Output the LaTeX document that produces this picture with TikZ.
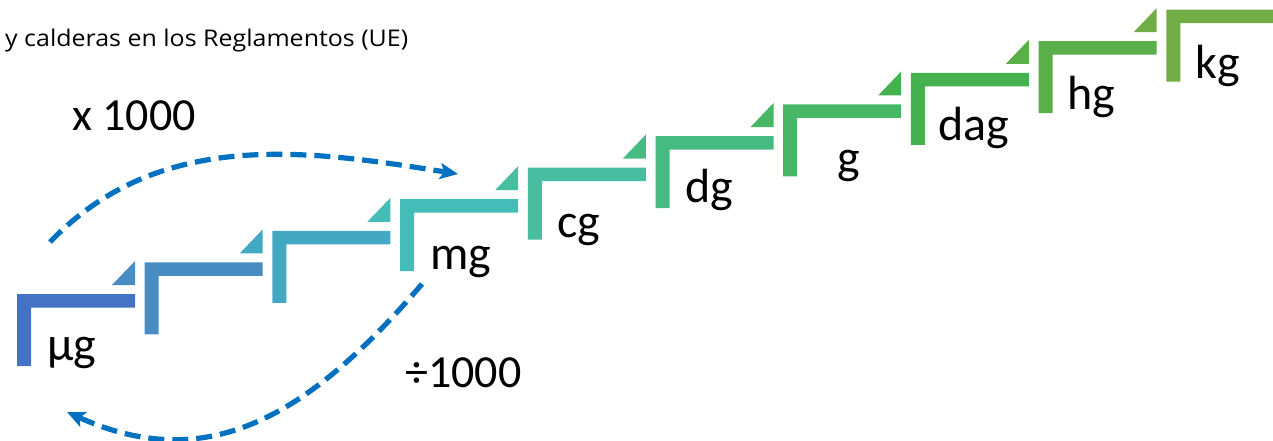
\documentclass[tikz,border=0pt]{standalone}
\usepackage{graphicx}
\usepackage{fontspec}
\setmainfont{Carlito}
\newfontfamily\titlefont{Open Sans}
\usetikzlibrary{arrows.meta}
\definecolor{s0}{HTML}{4472C4}
\definecolor{s1}{HTML}{478DC4}
\definecolor{s2}{HTML}{43A8C2}
\definecolor{s3}{HTML}{44BDB8}
\definecolor{s4}{HTML}{46BE9F}
\definecolor{s5}{HTML}{45BB82}
\definecolor{s6}{HTML}{47B665}
\definecolor{s7}{HTML}{45B24F}
\definecolor{s8}{HTML}{5AAF48}
\definecolor{s9}{HTML}{70AD47}
\definecolor{arrowblue}{HTML}{0070C0}
\tikzset{
  unitlabel/.style={anchor=base west, inner sep=0pt, font=\fontsize{48}{58}\selectfont},
  convlabel/.style={anchor=base west, inner sep=0pt, font=\fontsize{46}{55}\selectfont},
  convarrow/.style={draw=arrowblue, line width=5.2pt, dash pattern=on 16pt off 8pt,
    -{Stealth[length=18pt,width=16pt,inset=4pt]}},
}
\begin{document}
\begin{tikzpicture}[x=1pt,y=-1pt]
\useasboundingbox (0,0) rectangle (1273,441);
\begin{scope}
  \clip (0,0) rectangle (1273,441);
  \foreach \i in {0,...,9} {
    \pgfmathsetmacro\xo{17+127.7*\i}
    \pgfmathsetmacro\yo{294-31.6*\i}
    \fill[fill=s\i] (\xo,\yo) -- ++(118,0) -- ++(0,13.5) -- ++(-104,0) -- ++(0,58.5) -- ++(-14,0) -- cycle;
  }
  \foreach \i in {0,...,8} {
    \pgfmathsetmacro\xo{17+127.7*\i+118}
    \pgfmathsetmacro\yo{294-31.6*\i}
    \pgfmathtruncatemacro\j{\i+1}
    \fill[fill=s\j] (\xo,\yo-9) -- ++(-23,0) -- ++(23,-24) -- cycle;
  }
\end{scope}

\node[anchor=base west, inner sep=0pt] (title) at (5,47)
  {\resizebox{403pt}{\height}{\titlefont\fontsize{23}{27}\selectfont y calderas en los Reglamentos (UE)}};

\node[unitlabel] (ug) at (47,360) {μg};
\node[unitlabel] (mg) at (430,269) {mg};
\node[unitlabel] (cg) at (557,237) {cg};
\node[unitlabel] (dg) at (685,202) {dg};
\node[unitlabel] (g) at (837,173) {g};
\node[unitlabel] (dag) at (938,140) {dag};
\node[unitlabel] (hg) at (1067,110) {hg};
\node[unitlabel] (kg) at (1195,79) {kg};

\node[convlabel] (mul) at (72,131) {x 1000};
\node[convlabel] (div) at (405,387) {÷1000};

\coordinate (upstart) at (50,242);
\coordinate (upend) at (458,174);
\draw[convarrow] (upstart) .. controls (160,128) and (308,150) .. (upend);
\coordinate (downstart) at (422,284);
\coordinate (downend) at (67,412);
\draw[convarrow] (downstart) .. controls (305,421) and (204,474) .. (downend);
\end{tikzpicture}
\end{document}
